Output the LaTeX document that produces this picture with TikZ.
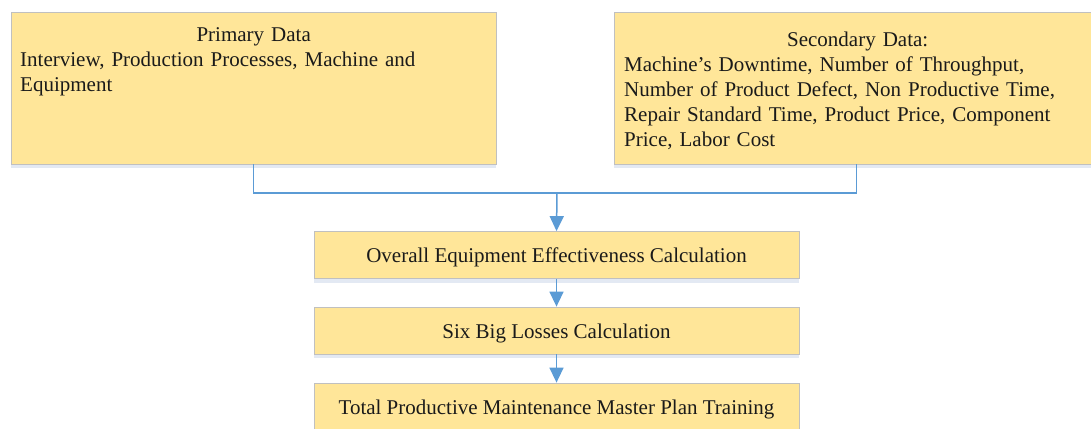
\documentclass[tikz,border=0pt]{standalone}
\usepackage{fontspec}
\setmainfont{Liberation Serif}
\usetikzlibrary{arrows.meta,shadows}
\definecolor{boxfill}{HTML}{FFE699}
\definecolor{boxline}{HTML}{C0C0C0}
\definecolor{linkblue}{HTML}{5B9BD5}
\definecolor{shadowc}{HTML}{DCE4F0}
\definecolor{txt}{HTML}{1A1A1A}
\tikzset{
  databox/.style={draw=boxline, line width=0.8pt, fill=boxfill, inner sep=0pt,
    drop shadow={shadow xshift=0pt, shadow yshift=-4pt, fill=shadowc, opacity=0.8}},
  stepbox/.style={databox, minimum width=485pt, minimum height=47pt,
    font=\fontsize{21}{25}\selectfont, text=txt, text height=15pt, text depth=0pt},
  boxtext/.style={inner sep=0pt, anchor=north west, font=\fontsize{21}{25}\selectfont, text=txt},
  link/.style={draw=linkblue, line width=1.5pt},
  arrowlink/.style={link, -{Triangle[length=15pt,width=14pt]}}
}
\begin{document}
\begin{tikzpicture}[x=1pt,y=-1pt]
\useasboundingbox (0,0) rectangle (1091,428);
% top boxes
\node[databox, minimum width=485pt, minimum height=152pt] (prim) at (253.5,88) {};
\node[databox, minimum width=485pt, minimum height=152pt] (sec) at (856.5,88) {};
\node[boxtext, text width=467pt] (primtxt) at (20,27.5)
  {\centering Primary Data\par\raggedright Interview, Production Processes, Machine and\\Equipment};
\node[boxtext, text width=467pt] (sectxt) at (624,31.5)
  {\centering Secondary Data:\par\raggedright Machine’s Downtime, Number of Throughput,\\Number of Product Defect, Non Productive Time,\\Repair Standard Time, Product Price, Component\\Price, Labor Cost};
% process boxes
\node[stepbox] (oee) at (556.5,255) {Overall Equipment Effectiveness Calculation};
\node[stepbox] (six) at (556.5,330.5) {Six Big Losses Calculation};
\node[stepbox] (tpm) at (556.5,406.5) {Total Productive Maintenance Master Plan Training};
% connectors
\coordinate (j) at (557,193);
\draw[link] (prim.south) |- (j) -| (sec.south);
\draw[arrowlink] (j) -- (oee.north);
\draw[arrowlink] (oee.south) -- (six.north);
\draw[arrowlink] (six.south) -- (tpm.north);
\end{tikzpicture}
\end{document}
